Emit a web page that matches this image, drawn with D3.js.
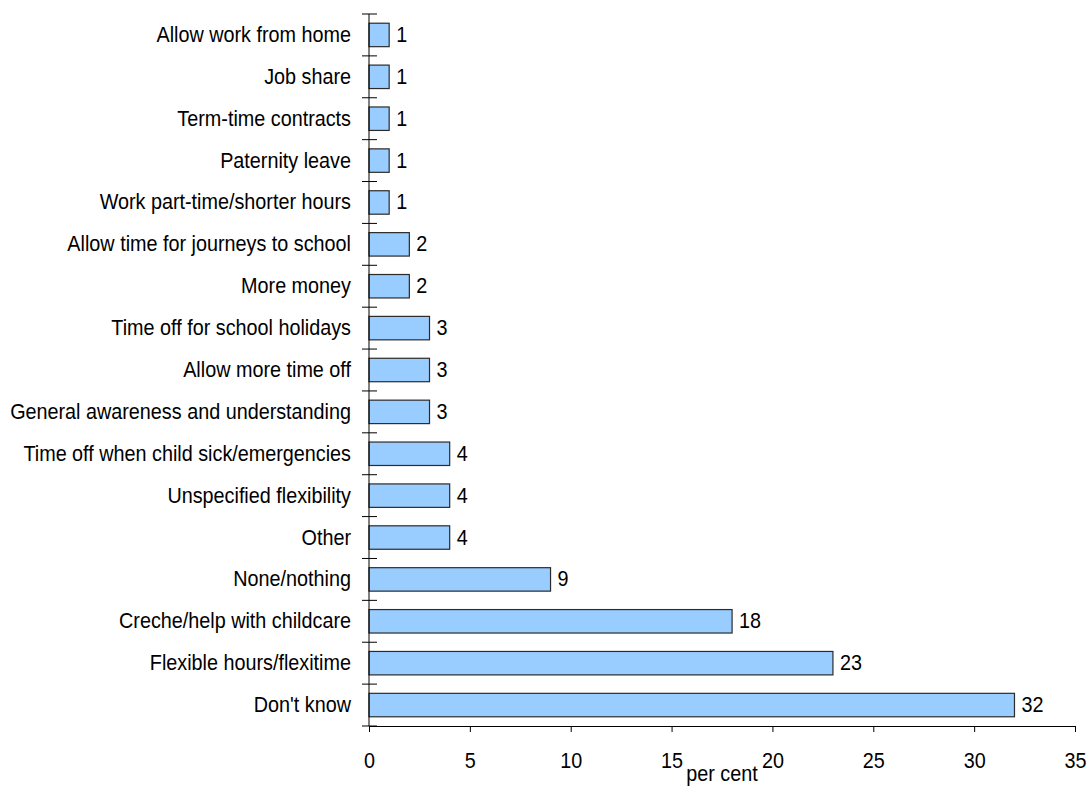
<!DOCTYPE html>
<html>
<head>
<meta charset="utf-8">
<script src="https://cdn.jsdelivr.net/npm/d3@7"></script>
<style>
  html, body { margin: 0; padding: 0; background: #fff; }
  svg { display: block; }
  text { font-family: "Liberation Sans", Arial, sans-serif; fill: #000; }
</style>
</head>
<body>
<svg id="chart" width="1087" height="787"></svg>
<script>
// Responses, top to bottom
const categories = [
  "Allow work from home",
  "Job share",
  "Term-time contracts",
  "Paternity leave",
  "Work part-time/shorter hours",
  "Allow time for journeys to school",
  "More money",
  "Time off for school holidays",
  "Allow more time off",
  "General awareness and understanding",
  "Time off when child sick/emergencies",
  "Unspecified flexibility",
  "Other",
  "None/nothing",
  "Creche/help with childcare",
  "Flexible hours/flexitime",
  "Don't know"
];
const values = [1, 1, 1, 1, 1, 2, 2, 3, 3, 3, 4, 4, 4, 9, 18, 23, 32];
const xTicks = [0, 5, 10, 15, 20, 25, 30, 35];
const xTitle = "per cent";

(function () {
  const svg = d3.select("#chart");
  const plotLeft = 369, plotRight = 1075, plotTop = 14, plotBottom = 726;

  const x = d3.scaleLinear().domain([0, 35]).range([plotLeft, plotRight]);
  const y = d3.scaleBand().domain(categories).range([plotTop, plotBottom])
    .paddingInner(0.44).paddingOuter(0.22);

  // Tall, slightly condensed lettering
  const fontSize = 22;
  const squeeze = "scale(0.9,1)";
  const baseShift = 7;

  // Bars
  svg.append("g").selectAll("rect")
    .data(categories)
    .join("rect")
    .attr("x", x(0))
    .attr("y", d => y(d))
    .attr("width", (d, i) => x(values[i]) - x(0))
    .attr("height", y.bandwidth())
    .attr("fill", "#99ccff")
    .attr("stroke", "#2b2b2b")
    .attr("stroke-width", 1.2);

  // Value labels
  svg.append("g").selectAll("text")
    .data(categories)
    .join("text")
    .attr("transform", (d, i) =>
      `translate(${x(values[i]) + 7},${y(d) + y.bandwidth() / 2 + baseShift}) ${squeeze}`)
    .attr("font-size", fontSize)
    .text((d, i) => values[i]);

  // Category labels
  svg.append("g").selectAll("text")
    .data(categories)
    .join("text")
    .attr("transform", d => `translate(351,${y(d) + y.bandwidth() / 2 + baseShift}) ${squeeze}`)
    .attr("text-anchor", "end")
    .attr("font-size", fontSize)
    .text(d => d);

  // Y axis line with boundary ticks crossing it
  const step = (plotBottom - plotTop) / categories.length;
  const yAxis = svg.append("g").attr("stroke", "#000").attr("stroke-width", 1);
  yAxis.append("line").attr("x1", plotLeft).attr("x2", plotLeft).attr("y1", plotTop).attr("y2", plotBottom);
  d3.range(categories.length + 1).forEach(i => {
    const yy = plotTop + i * step;
    yAxis.append("line").attr("x1", plotLeft - 7).attr("x2", plotLeft + 8).attr("y1", yy).attr("y2", yy);
  });

  // X axis
  const xAxis = d3.axisBottom(x).tickValues(xTicks).tickSize(6).tickSizeOuter(0).tickPadding(20);
  const gx = svg.append("g").attr("transform", `translate(0,${plotBottom})`).call(xAxis);
  gx.select(".domain").attr("stroke", "#000");
  gx.selectAll(".tick line").attr("stroke", "#000");
  gx.selectAll(".tick text")
    .attr("font-size", fontSize)
    .attr("font-family", "Liberation Sans, Arial, sans-serif")
    .attr("fill", "#000")
    .attr("transform", squeeze);

  // Axis title
  svg.append("text")
    .attr("transform", `translate(722,781) ${squeeze}`)
    .attr("text-anchor", "middle")
    .attr("font-size", fontSize)
    .text(xTitle);
})();
</script>
</body>
</html>
